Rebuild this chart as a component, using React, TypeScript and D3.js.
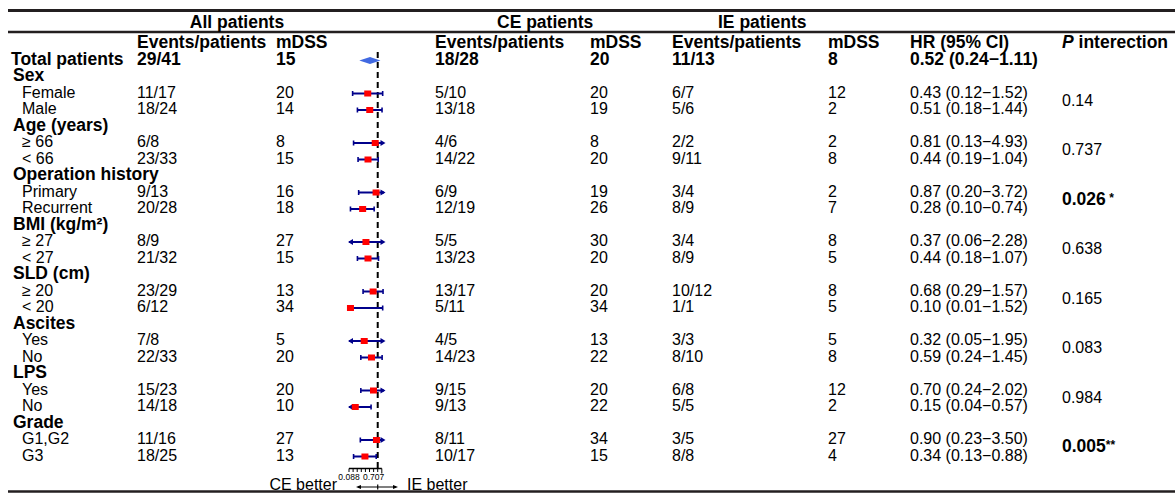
import React from "react";
import * as d3 from "d3";

// ---------- data ----------
const groups = ["Sex", "Age (years)", "Operation history", "BMI (kg/m²)", "SLD (cm)", "Ascites", "LPS", "Grade"];
const subgroups = [
  ["Female", "Male"],
  ["≥ 66", "< 66"],
  ["Primary", "Recurrent"],
  ["≥ 27", "< 27"],
  ["≥ 20", "< 20"],
  ["Yes", "No"],
  ["Yes", "No"],
  ["G1,G2", "G3"],
];
const allEvents = ["11/17", "18/24", "6/8", "23/33", "9/13", "20/28", "8/9", "21/32", "23/29", "6/12", "7/8", "22/33", "15/23", "14/18", "11/16", "18/25"];
const allMdss = [20, 14, 8, 15, 16, 18, 27, 15, 13, 34, 5, 20, 20, 10, 27, 13];
const ceEvents = ["5/10", "13/18", "4/6", "14/22", "6/9", "12/19", "5/5", "13/23", "13/17", "5/11", "4/5", "14/23", "9/15", "9/13", "8/11", "10/17"];
const ceMdss = [20, 19, 8, 20, 19, 26, 30, 20, 20, 34, 13, 22, 20, 22, 34, 15];
const ieEvents = ["6/7", "5/6", "2/2", "9/11", "3/4", "8/9", "3/4", "8/9", "10/12", "1/1", "3/3", "8/10", "6/8", "5/5", "3/5", "8/8"];
const ieMdss = [12, 2, 2, 8, 2, 7, 8, 5, 8, 5, 5, 8, 12, 2, 27, 4];
const hr = [0.43, 0.51, 0.81, 0.44, 0.87, 0.28, 0.37, 0.44, 0.68, 0.10, 0.32, 0.59, 0.70, 0.15, 0.90, 0.34];
const hrLow = [0.12, 0.18, 0.13, 0.19, 0.20, 0.10, 0.06, 0.18, 0.29, 0.01, 0.05, 0.24, 0.24, 0.04, 0.23, 0.13];
const hrHigh = [1.52, 1.44, 4.93, 1.04, 3.72, 0.74, 2.28, 1.07, 1.57, 1.52, 1.95, 1.45, 2.02, 0.57, 3.50, 0.88];
const pInteraction = ["0.14", "0.737", "0.026", "0.638", "0.165", "0.083", "0.984", "0.005"];
const pStars = ["", "", " *", "", "", "", "", "**"];

const totalLabel = "Total patients";
const totalAll = ["29/41", "15"];
const totalCE = ["18/28", "20"];
const totalIE = ["11/13", "8"];
const totalHR = [0.52, 0.24, 1.11];

const axisTickLabels = ["0.088", "0.707"];
const axisTickLabelValues = [Math.pow(2, -3.5), Math.pow(2, -0.5)];

// ---------- layout ----------
const W = 1175;
const H = 493;
const FONT = "'Liberation Sans', Arial, Helvetica, sans-serif";
const REG = 16;
const BOLD = 17.5;
const ROW0 = 64.5;
const STEP = 16.5;
const rowY = (i: number) => ROW0 + STEP * i;

const col = {
  label: 11,
  group: 13,
  sub: 22,
  allEv: 137,
  allMd: 276,
  ceEv: 435,
  ceMd: 590,
  ieEv: 672,
  ieMd: 828,
  hr: 910,
  p: 1062,
};

const xMin = Math.pow(2, -3.5);
const xMax = 1.7;
const x = d3.scaleLog().base(2).domain([xMin, xMax]).range([349, 384]);
const f2 = d3.format(".2f");
const NAVY = "#00008B";

function Arrow({ xTip, y, dir }: { xTip: number; y: number; dir: number }) {
  const p = d3.path();
  p.moveTo(xTip, y);
  p.lineTo(xTip - dir * 5, y - 3);
  p.lineTo(xTip - dir * 5, y + 3);
  p.closePath();
  return <path d={p.toString()} fill={NAVY} />;
}

function ForestRow({ y, est, lo, hi }: { y: number; est: number; lo: number; hi: number }) {
  const loClip = lo < xMin;
  const hiClip = hi > xMax;
  const x0 = x(loClip ? xMin : lo);
  const x1 = x(hiClip ? xMax : hi);
  return (
    <g>
      <line x1={x0} x2={x1} y1={y} y2={y} stroke={NAVY} strokeWidth={2} />
      {loClip ? <Arrow xTip={x0 - 1} y={y} dir={-1} /> : <line x1={x0} x2={x0} y1={y - 2.5} y2={y + 2.5} stroke={NAVY} strokeWidth={1.6} />}
      {hiClip ? <Arrow xTip={x1 + 1.5} y={y} dir={1} /> : <line x1={x1} x2={x1} y1={y - 2.5} y2={y + 2.5} stroke={NAVY} strokeWidth={1.6} />}
      <rect x={x(est) - 3.5} y={y - 3} width={7} height={6} fill="#FF0000" />
    </g>
  );
}

export default function App() {
  const rows: any[] = [];
  let r = 1;
  let k = 0;
  const pRows: any[] = [];
  groups.forEach((g, gi) => {
    rows.push({ type: "group", label: g, i: r });
    r++;
    const first = r;
    subgroups[gi].forEach((s) => {
      rows.push({ type: "sub", label: s, i: r, k });
      r++;
      k++;
    });
    pRows.push({ p: pInteraction[gi], star: pStars[gi], y: (rowY(first) + rowY(first + 1)) / 2, bold: pStars[gi] !== "" });
  });

  const axisY = 468.5;
  const ticks = d3.range(-7, 2).map((t) => Math.pow(2, t / 2));
  const x1v = x(1);

  return (
    <svg width={W} height={H} style={{ position: "absolute", left: 0, top: 0, background: "#fff" }} fontFamily={FONT}>
      <rect width={W} height={H} fill="#fff" />
      {/* rules */}
      <line x1={8} x2={W} y1={10.5} y2={10.5} stroke="#231F20" strokeWidth={3} />
      <line x1={8} x2={W} y1={32} y2={32} stroke="#231F20" strokeWidth={2.5} />
      <line x1={8} x2={W} y1={491.5} y2={491.5} stroke="#231F20" strokeWidth={2.5} />

      {/* top headers */}
      <g fontWeight="bold" fontSize={BOLD}>
        <text x={237} y={28} textAnchor="middle">All patients</text>
        <text x={497} y={28}>CE patients</text>
        <text x={718} y={28}>IE patients</text>
        <text x={col.allEv} y={48}>Events/patients</text>
        <text x={col.allMd} y={48}>mDSS</text>
        <text x={col.ceEv} y={48}>Events/patients</text>
        <text x={col.ceMd} y={48}>mDSS</text>
        <text x={col.ieEv} y={48}>Events/patients</text>
        <text x={col.ieMd} y={48}>mDSS</text>
        <text x={col.hr} y={48}>HR (95% CI)</text>
        <text x={col.p} y={48}>
          <tspan fontStyle="italic">P</tspan> interection
        </text>
        {/* total row */}
        <text x={col.label} y={rowY(0)}>{totalLabel}</text>
        <text x={col.allEv} y={rowY(0)}>{totalAll[0]}</text>
        <text x={col.allMd} y={rowY(0)}>{totalAll[1]}</text>
        <text x={col.ceEv} y={rowY(0)}>{totalCE[0]}</text>
        <text x={col.ceMd} y={rowY(0)}>{totalCE[1]}</text>
        <text x={col.ieEv} y={rowY(0)}>{totalIE[0]}</text>
        <text x={col.ieMd} y={rowY(0)}>{totalIE[1]}</text>
        <text x={col.hr} y={rowY(0)}>{`${f2(totalHR[0])} (${f2(totalHR[1])}−${f2(totalHR[2])})`}</text>
      </g>

      {/* table rows */}
      {rows.map((row) =>
        row.type === "group" ? (
          <text key={"g" + row.i} x={col.group} y={rowY(row.i)} fontWeight="bold" fontSize={BOLD}>{row.label}</text>
        ) : (
          <g key={"s" + row.i} fontSize={REG}>
            <text x={col.sub} y={rowY(row.i)}>{row.label}</text>
            <text x={col.allEv} y={rowY(row.i)}>{allEvents[row.k]}</text>
            <text x={col.allMd} y={rowY(row.i)}>{allMdss[row.k]}</text>
            <text x={col.ceEv} y={rowY(row.i)}>{ceEvents[row.k]}</text>
            <text x={col.ceMd} y={rowY(row.i)}>{ceMdss[row.k]}</text>
            <text x={col.ieEv} y={rowY(row.i)}>{ieEvents[row.k]}</text>
            <text x={col.ieMd} y={rowY(row.i)}>{ieMdss[row.k]}</text>
            <text x={col.hr} y={rowY(row.i)}>{`${f2(hr[row.k])} (${f2(hrLow[row.k])}−${f2(hrHigh[row.k])})`}</text>
          </g>
        )
      )}

      {/* p interaction */}
      {pRows.map((p, i) => (
        <text key={"p" + i} x={col.p} y={p.y} fontSize={p.bold ? BOLD : REG} fontWeight={p.bold ? "bold" : "normal"}>
          {p.p}
          {p.star && (
            <tspan fontSize={12} dy={-3}>{p.star}</tspan>
          )}
        </text>
      ))}

      {/* forest */}
      <line x1={x1v} x2={x1v} y1={52} y2={axisY} stroke="#000" strokeWidth={2} strokeDasharray="6,4" />
      {(() => {
        const y = rowY(0) - 4;
        const p = d3.path();
        p.moveTo(x(totalHR[1]) - 1.5, y);
        p.lineTo(x(totalHR[0]), y - 3.5);
        p.lineTo(x(totalHR[2]) + 1.5, y);
        p.lineTo(x(totalHR[0]), y + 3.5);
        p.closePath();
        return <path d={p.toString()} fill="#4169E1" />;
      })()}
      {rows
        .filter((row) => row.type === "sub")
        .map((row) => (
          <ForestRow key={"f" + row.k} y={rowY(row.i) - 4} est={hr[row.k]} lo={hrLow[row.k]} hi={hrHigh[row.k]} />
        ))}

      {/* axis */}
      <g stroke="#000" strokeWidth={1}>
        <line x1={x(ticks[0])} x2={x(ticks[ticks.length - 1])} y1={axisY} y2={axisY} strokeWidth={1.5} />
        {ticks.map((t, i) => (
          <line key={"t" + i} x1={x(t)} x2={x(t)} y1={axisY} y2={axisY + (i === ticks.length - 1 ? 5 : 3.5)} />
        ))}
      </g>
      {axisTickLabels.map((l, i) => (
        <text key={"al" + i} x={x(axisTickLabelValues[i])} y={480} fontSize={8.5} textAnchor="middle">{l}</text>
      ))}

      {/* direction arrows */}
      <g stroke="#000" strokeWidth={1.2} fill="#000">
        <line x1={358} x2={396} y1={487} y2={487} />
        <line x1={x1v} x2={x1v} y1={484.5} y2={489.5} />
        <path d="M356,487 L361,485 L361,489 Z" stroke="none" />
        <path d="M398,487 L393,485 L393,489 Z" stroke="none" />
      </g>
      <text x={337} y={490} fontSize={REG} textAnchor="end">CE better</text>
      <text x={407} y={490} fontSize={REG}>IE better</text>
    </svg>
  );
}
